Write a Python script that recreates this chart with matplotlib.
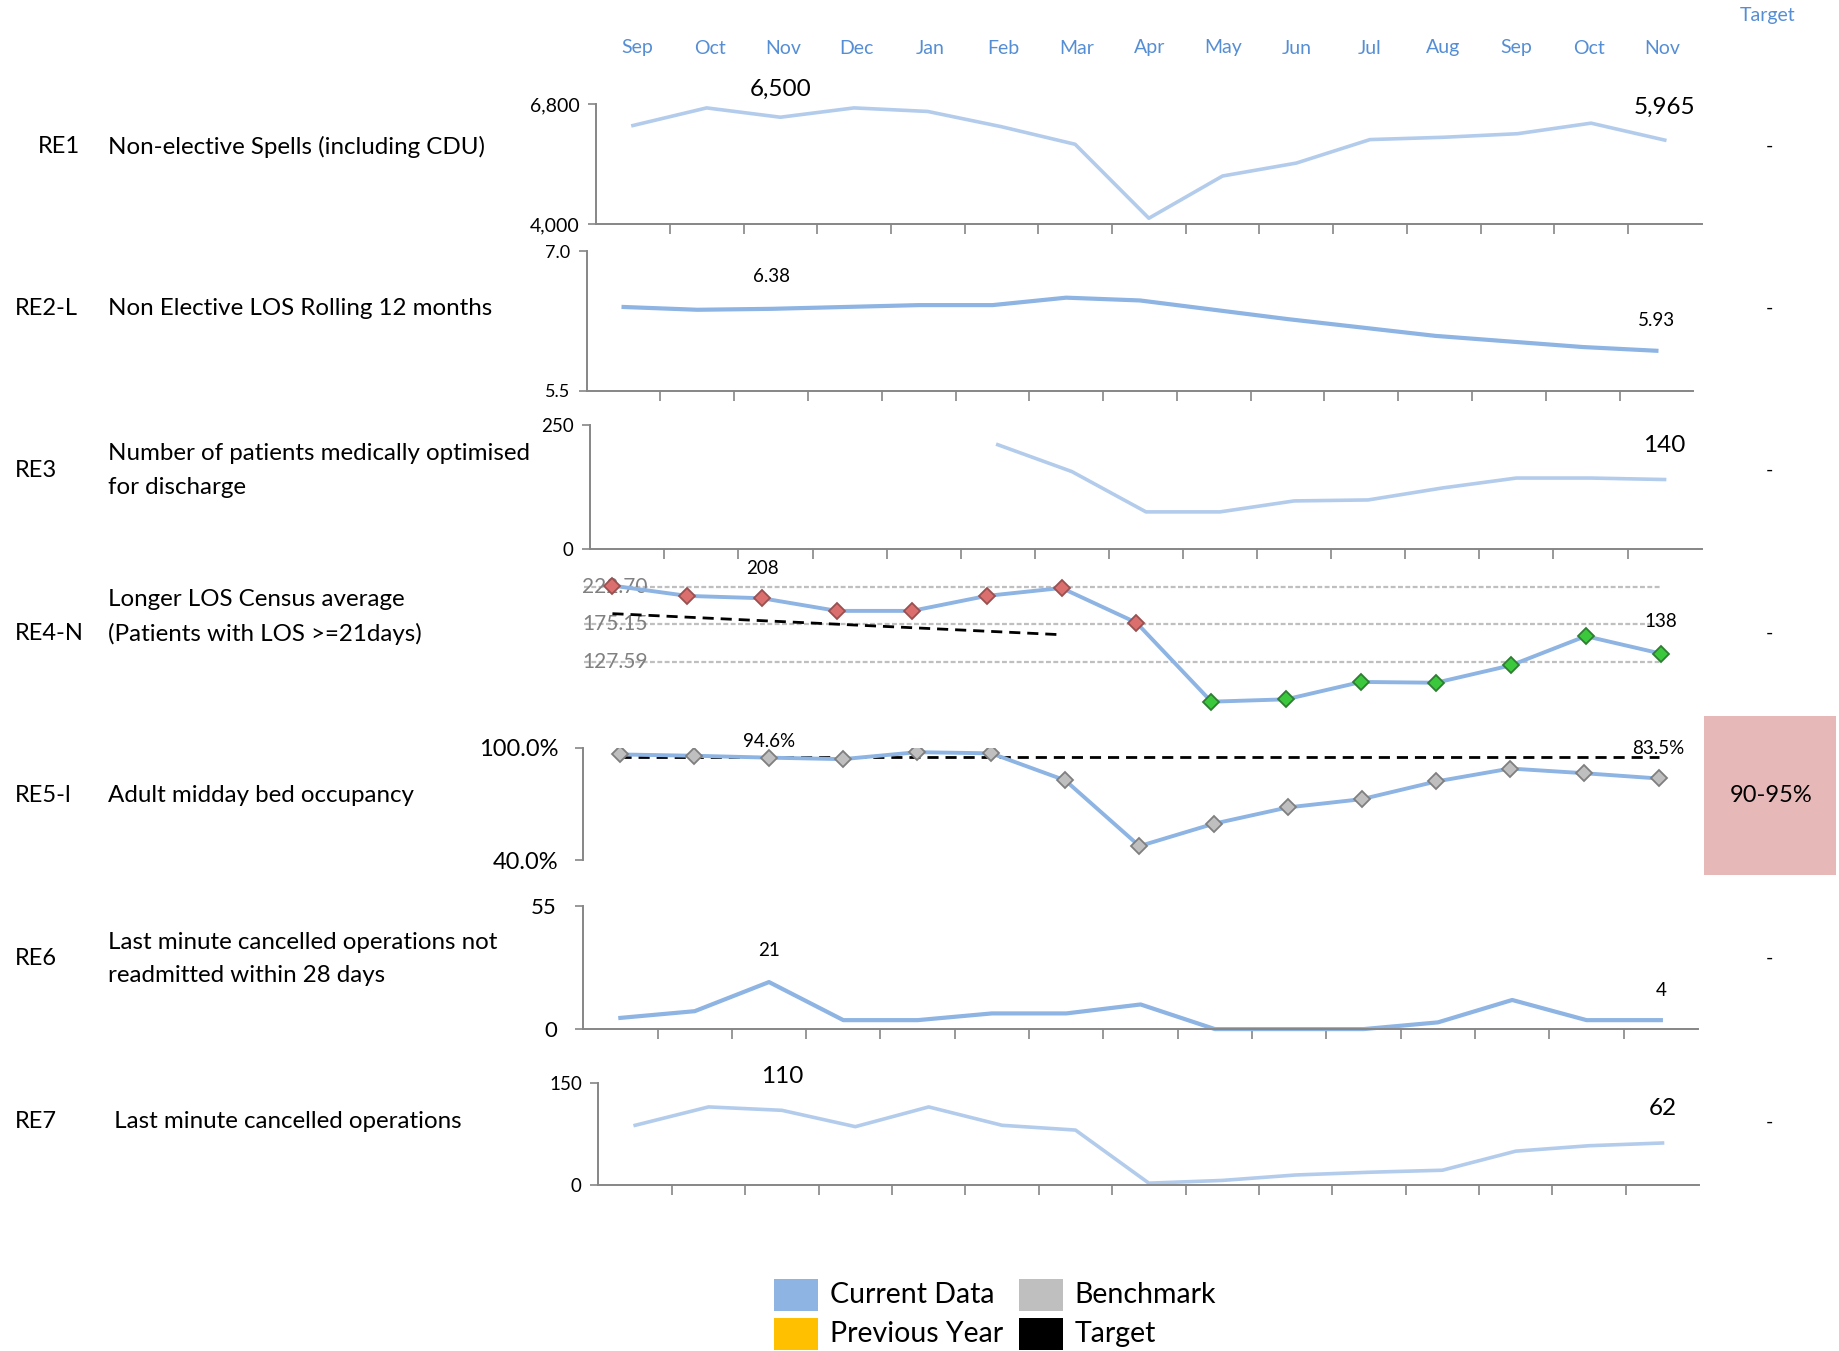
import numpy as np
import matplotlib
matplotlib.use('Agg')
import matplotlib.pyplot as plt
from matplotlib.patches import Rectangle

plt.rcParams['font.family'] = ['Lato', 'DejaVu Sans']

# ------------------------------------------------------------------ #
# Data
# ------------------------------------------------------------------ #

months = ['Sep', 'Oct', 'Nov', 'Dec', 'Jan', 'Feb', 'Mar', 'Apr',
          'May', 'Jun', 'Jul', 'Aug', 'Sep', 'Oct', 'Nov']

codes = ['RE1', 'RE2-L', 'RE3', 'RE4-N', 'RE5-l', 'RE6', 'RE7']
titles = ['Non-elective Spells (including CDU)',
          'Non Elective LOS Rolling 12 months',
          'Number of patients medically optimised\nfor discharge',
          'Longer LOS Census average\n(Patients with LOS >=21days)',
          'Adult midday bed occupancy',
          'Last minute cancelled operations not\nreadmitted within 28 days',
          ' Last minute cancelled operations']
targets = ['-', '-', '-', '-', '90-95%', '-', '-']

re1 = [6306, 6718, 6500, 6718, 6635, 6278, 5867, 4137, 5125, 5427, 5977, 6031, 6114, 6361, 5965]
re2 = [6.40, 6.37, 6.38, 6.40, 6.42, 6.42, 6.50, 6.47, 6.37, 6.27, 6.18, 6.09, 6.03, 5.97, 5.93]
re3 = [np.nan, np.nan, np.nan, np.nan, np.nan, 210, 156, 75, 75, 97, 99, 123, 143, 143, 140]
re4 = [224, 211, 208, 192, 192, 211, 221, 177, 77, 80, 102, 101, 123, 160, 138]
re4_status = ['R'] * 8 + ['G'] * 7
re4_limits = [222.70, 175.15, 127.59]
re4_trend_x = [0, 6]
re4_trend = [188.5, 161.8]
re5 = [96.3, 95.6, 94.6, 93.8, 97.5, 96.9, 82.5, 47.5, 59.4, 68.1, 72.5, 81.9, 88.8, 86.3, 83.5]
re5_target = 95.0
re6 = [5, 8, 21, 4, 4, 7, 7, 11, 0, 0, 0, 3, 13, 4, 4]
re7 = [88, 115, 110, 86, 115, 88, 81, 3, 7, 15, 19, 22, 50, 58, 62]

legend_items = [('Current Data', '#8DB4E2'), ('Previous Year', '#FFC000'),
                ('Benchmark', '#BFBFBF'), ('Target', '#000000')]

# ------------------------------------------------------------------ #
# Layout helpers (pixels, origin top-left)
# ------------------------------------------------------------------ #

W, H = 1840, 1351
fig = plt.figure(figsize=(W / 100, H / 100), dpi=100)

BLUE = '#8DB4E2'
LIGHT = '#B3CCEC'
AXIS = '#868686'
MONTH = '#558ED5'

x = np.arange(len(months))


def panel(left, right, top, bottom, pad=6):
    ax = fig.add_axes([left / W, 1 - bottom / H, (right - left) / W, (bottom - top) / H])
    ax.set_xlim(-0.5, len(months) - 0.5)
    ax.patch.set_alpha(0)
    for s in ['top', 'right']:
        ax.spines[s].set_visible(False)
    for s in ['left', 'bottom']:
        ax.spines[s].set_color(AXIS)
        ax.spines[s].set_linewidth(1.4)
    ax.set_xticks(np.arange(0.5, len(months) - 1, 1.0))
    ax.set_xticklabels([])
    ax.tick_params(axis='x', direction='out', length=7, width=1.2, color=AXIS)
    ax.tick_params(axis='y', direction='out', length=6, width=1.2, color=AXIS, pad=pad)
    return ax


def ftext(px, py, s, **kw):
    fig.text(px / W, 1 - py / H, s, **kw)


def label(ax, i, vals, fmt, dy, size):
    ax.annotate(fmt.format(vals[i]), (x[i], vals[i]), xytext=(0, dy),
                textcoords='offset pixels', ha='center', va='center',
                fontsize=size, color='black')


# ------------------------------------------------------------------ #
# Header
# ------------------------------------------------------------------ #

hdr_left, hdr_right = 600.6, 1699.0
step = (hdr_right - hdr_left) / len(months)
for i, m in enumerate(months):
    ftext(hdr_left + (i + 0.5) * step, 48, m, ha='center', va='center',
          fontsize=14, color=MONTH)
ftext(1768, 16, 'Target', ha='center', va='center', fontsize=14, color=MONTH)

# Row captions
row_y = [146.7, 308.6, 470.6, 633.7, 795.6, 958.7, 1121.8]
for k, (c, t, ty) in enumerate(zip(codes, titles, row_y)):
    ftext(37.6 if c == 'RE1' else 15.3, ty, c, ha='left', va='center', fontsize=17)
    if c == 'RE4-N':
        ftext(108, ty - 17, t, ha='left', va='center', fontsize=17.4, linespacing=1.72)
    else:
        ftext(108, ty, t, ha='left', va='center', fontsize=17.4, linespacing=1.72)
    if targets[k] == '-':
        ftext(1769.6, ty, '-', ha='center', va='center', fontsize=14)

# ------------------------------------------------------------------ #
# RE1
# ------------------------------------------------------------------ #
ax = panel(596.1, 1701.6, 104.4, 224.1)
ax.plot(x, re1, color=LIGHT, lw=2.6, solid_joinstyle='round')
ax.set_ylim(4000, 6800)
ax.set_yticks([4000, 6800])
ax.set_yticklabels(['4,000', '6,800'], fontsize=14)
label(ax, 2, re1, '{:,.0f}', 28, 17.5)
label(ax, 14, re1, '{:,.0f}', 33, 17.5)

# RE2
ax = panel(586.7, 1693.3, 251.1, 390.8)
ax.plot(x, re2, color=BLUE, lw=3, solid_joinstyle='round')
ax.set_ylim(5.5, 7.0)
ax.set_yticks([5.5, 7.0])
ax.set_yticklabels(['5.5', '7.0'], fontsize=13, )
label(ax, 2, re2, '{:.2f}', 32, 13.5)
label(ax, 14, re2, '{:.2f}', 30, 13.5)

# RE3
ax = panel(590.3, 1701.6, 424.8, 549.2)
ax.plot(x, re3, color=LIGHT, lw=2.6, solid_joinstyle='round')
ax.set_ylim(0, 250)
ax.set_yticks([0, 250])
ax.set_yticklabels(['0', '250'], fontsize=13.5)
label(ax, 14, re3, '{:.0f}', 34, 17.5)

# RE4
ax = panel(575.0, 1698.0, 565.1, 715.1)
ax.axis('off')
ax.set_ylim(60, 250)
ax.hlines(re4_limits, -0.38, 14, colors='#BFBFBF', linestyles=(0, (2.2, 1.1)), lw=1.6, zorder=1)
for v in re4_limits:
    ax.text(-0.4, v, '{:.2f}'.format(v), ha='left', va='center', fontsize=15,
            color='#808080', zorder=2)
ax.plot(re4_trend_x, re4_trend, color='black', lw=2, ls=(0, (4, 2.5)), zorder=2)
ax.plot(x, re4, color=BLUE, lw=2.8, zorder=3)
for i, st in enumerate(re4_status):
    fc, ec = ('#DA6F6E', '#9A5050') if st == 'R' else ('#3CC83C', '#2E7D32')
    ax.plot(x[i], re4[i], marker='D', ms=8, mfc=fc, mec=ec, mew=1.3, zorder=4)
label(ax, 2, re4, '{:.0f}', 30, 13.5)
label(ax, 14, re4, '{:.0f}', 32, 13.5)

# RE5
ax = panel(583.2, 1695.7, 747.5, 860.2, pad=12)
ax.spines['bottom'].set_visible(False)
ax.tick_params(axis='x', length=0)
ax.axhline(re5_target, xmin=0.5 / 15, xmax=14.5 / 15, color='black', lw=2,
           ls=(0, (4, 2.5)), zorder=2)
ax.plot(x, re5, color=BLUE, lw=2.8, marker='D', ms=8, mfc='#BFBFBF', mec='#7F7F7F',
        mew=1.3, zorder=3)
ax.set_ylim(40, 100)
ax.set_yticks([40, 100])
ax.set_yticklabels(['40.0%', '100.0%'], fontsize=17)
label(ax, 2, re5, '{:.1f}%', 16, 13.5)
label(ax, 14, re5, '{:.1f}%', 30, 13.5)
ftext(1770.8, 795.6, targets[4], ha='center', va='center', fontsize=17)
fig.patches.append(Rectangle((1703.9 / W, 1 - 875.4 / H), (1836.5 - 1703.9) / W,
                             (875.4 - 715.8) / H, transform=fig.transFigure,
                             facecolor='#E6B9B8', edgecolor='none', zorder=0))

# RE6
ax = panel(583.2, 1698.0, 905.9, 1029.1, pad=13)
ax.plot(x, re6, color=BLUE, lw=3, solid_joinstyle='round', clip_on=False)
ax.set_ylim(0, 55)
ax.set_yticks([0, 55])
ax.set_yticklabels(['0', '55'], fontsize=16)
label(ax, 2, re6, '{:.0f}', 32, 13.5)
label(ax, 14, re6, '{:.0f}', 30, 13.5)

# RE7
ax = panel(598.5, 1699.2, 1083.1, 1185.2)
ax.plot(x, re7, color=LIGHT, lw=2.6, solid_joinstyle='round')
ax.set_ylim(0, 150)
ax.set_yticks([0, 150])
ax.set_yticklabels(['0', '150'], fontsize=13.5)
label(ax, 2, re7, '{:.0f}', 34, 17.5)
label(ax, 14, re7, '{:.0f}', 34, 17.5)

# ------------------------------------------------------------------ #
# Legend
# ------------------------------------------------------------------ #
box_pos = [(774.5, 1279.0), (774.5, 1317.8), (1018.6, 1279.0), (1018.6, 1317.8)]
for (name, col), (bx, by) in zip(legend_items, box_pos):
    fig.patches.append(Rectangle((bx / W, 1 - (by + 32) / H), 44 / W, 32 / H,
                                 transform=fig.transFigure, facecolor=col,
                                 edgecolor='none'))
    ftext(bx + 56, by + 16, name, ha='left', va='center', fontsize=20.5)

plt.savefig('out.png', dpi=100)
